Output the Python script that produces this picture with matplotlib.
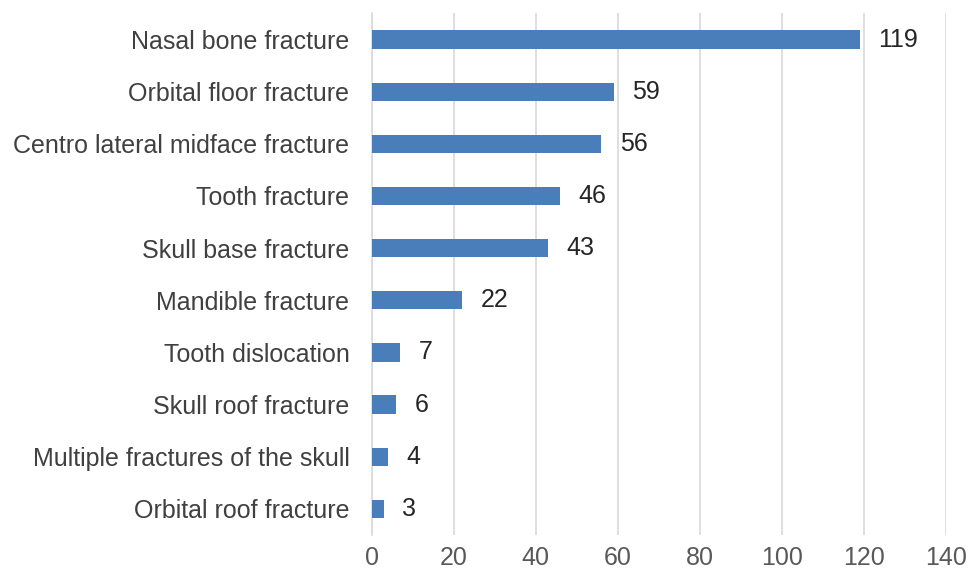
import matplotlib
matplotlib.use("Agg")
import matplotlib.pyplot as plt

# data (top to bottom as in the chart)
categories = [
    "Nasal bone fracture",
    "Orbital floor fracture",
    "Centro lateral midface fracture",
    "Tooth fracture",
    "Skull base fracture",
    "Mandible fracture",
    "Tooth dislocation",
    "Skull roof fracture",
    "Multiple fractures of the skull",
    "Orbital roof fracture",
]
counts = [119, 59, 56, 46, 43, 22, 7, 6, 4, 3]
xticks = [0, 20, 40, 60, 80, 100, 120, 140]

plt.rcParams['font.family'] = ['Liberation Sans', 'DejaVu Sans']
FS = 18

fig = plt.figure(figsize=(9.68, 5.75), dpi=100)
ax = fig.add_axes([0.384, 0.0696, 0.593, 0.907])

y = list(range(len(categories)))
ax.barh(y, counts, height=0.35, color='#4a7ebb', zorder=3)
for yi, v in zip(y, counts):
    ax.text(v + 4.5, yi, str(v), va='center', ha='left', fontsize=FS,
            color='#262626')

ax.set_yticks(y)
ax.set_yticklabels(categories, fontsize=FS, color='#404040')
ax.set_ylim(len(categories) - 0.5, -0.5)
ax.set_xlim(0, 140)
ax.set_xticks(xticks)
ax.set_xticklabels([str(t) for t in xticks], fontsize=FS, color='#595959')
ax.tick_params(length=0)
ax.tick_params(axis='y', pad=16)
ax.tick_params(axis='x', pad=8)
ax.grid(axis='x', color='#d9d9d9', linewidth=1.2, zorder=0)
for s in ['top', 'right', 'bottom']:
    ax.spines[s].set_visible(False)
ax.spines['left'].set_color('#d9d9d9')
ax.spines['left'].set_linewidth(1.2)

fig.savefig('out.png', dpi=100)
